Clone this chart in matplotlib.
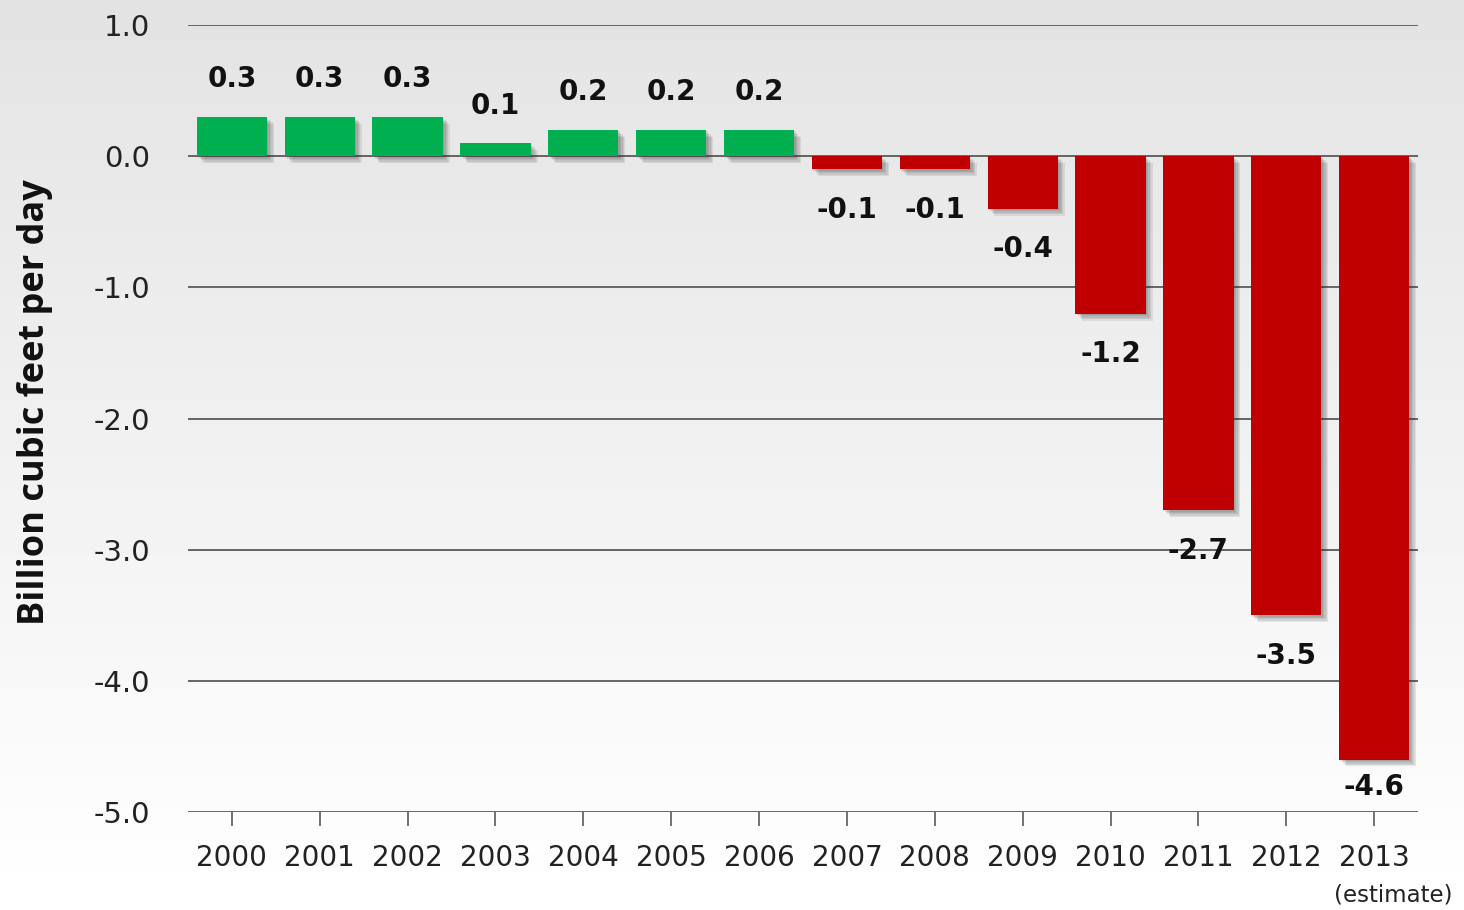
import numpy as np
import matplotlib
matplotlib.use("Agg")
import matplotlib.pyplot as plt
import matplotlib.patheffects as pe

years = ["2000", "2001", "2002", "2003", "2004", "2005", "2006",
         "2007", "2008", "2009", "2010", "2011", "2012", "2013"]
values = [0.3, 0.3, 0.3, 0.1, 0.2, 0.2, 0.2,
          -0.1, -0.1, -0.4, -1.2, -2.7, -3.5, -4.6]
value_labels = ["0.3", "0.3", "0.3", "0.1", "0.2", "0.2", "0.2",
                "-0.1", "-0.1", "-0.4", "-1.2", "-2.7", "-3.5", "-4.6"]
yticks = [1.0, 0.0, -1.0, -2.0, -3.0, -4.0, -5.0]

GREEN = "#00b050"
RED = "#c00000"

fig = plt.figure(figsize=(14.64, 9.10), dpi=100)

# background gradient (light gray top -> white bottom)
bg = fig.add_axes([0, 0, 1, 1], zorder=-10)
grad = np.linspace(0.89, 1.0, 256).reshape(-1, 1)
bg.imshow(grad, aspect="auto", cmap="gray", vmin=0, vmax=1, extent=[0, 1, 0, 1])
bg.axis("off")

ax = fig.add_axes([0.1284, 0.1077, 0.8402, 0.8648])
ax.patch.set_alpha(0)
x = np.arange(len(years))
colors = [GREEN if v >= 0 else RED for v in values]
bars = ax.bar(x, values, width=0.8, color=colors, zorder=3)

# soft drop shadow: a few stacked faint offsets
shadow = [pe.SimplePatchShadow(offset=(d, -d), shadow_rgbFace="#333333", alpha=0.10)
          for d in (1, 2, 3, 4, 5)]
for b in bars:
    b.set_path_effects(shadow + [pe.Normal()])

ax.set_xlim(-0.5, len(years) - 0.5)
ax.set_ylim(-5.0, 1.0)
ax.set_yticks(yticks)
ax.set_yticklabels([f"{t:.1f}" for t in yticks])
ax.yaxis.grid(True, color="#5a5a5a", linewidth=1.3, zorder=1)
ax.set_axisbelow(True)
for s in ax.spines.values():
    s.set_visible(False)

ax.set_xticks(x)
ax.set_xticklabels(years)
ax.tick_params(axis="y", length=0, pad=27, labelsize=21, labelcolor="#222222")
ax.tick_params(axis="x", length=10, width=1.2, color="#5a5a5a", pad=13,
               labelsize=20, labelcolor="#222222")

for i, (v, lab) in enumerate(zip(values, value_labels)):
    if v >= 0:
        off = 27
    else:
        off = -29 if i < len(values) - 1 else -20
    ax.annotate(lab, (x[i], v), xytext=(0, off), textcoords="offset points",
                ha="center", va="center", fontsize=20, fontweight="bold",
                color="#111111", zorder=5)

fig.text(1393 / 1464, 1 - 895 / 910, "(estimate)", ha="center", va="center",
         fontsize=16.5, color="#222222")
fig.text(35 / 1464, 1 - 402 / 910, "Billion cubic feet per day", rotation=90,
         ha="center", va="center", fontsize=26, fontweight="bold",
         family="Open Sans", color="#111111")

fig.savefig("out.png", dpi=100)
